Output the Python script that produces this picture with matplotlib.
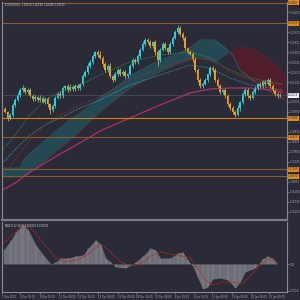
import numpy as np
import matplotlib.pyplot as plt

# EURUSD H4 closes
closes = [1.1975, 1.1948, 1.19615, 1.20065, 1.2029, 1.20515, 1.2074, 1.2083, 1.2065, 1.2074,
          1.2047, 1.20335, 1.20425, 1.2029, 1.2038, 1.2020, 1.20335, 1.2011, 1.1984, 1.2002,
          1.2038, 1.2056, 1.2047, 1.2083, 1.2092, 1.2074, 1.20875, 1.20785, 1.2092, 1.2083,
          1.2101, 1.2137, 1.2155, 1.2182, 1.2200, 1.2227, 1.2245, 1.22315, 1.2218, 1.2191,
          1.2164, 1.2182, 1.2137, 1.2119, 1.2146, 1.2164, 1.2146, 1.2155, 1.2137, 1.2146,
          1.2182, 1.2209, 1.2200, 1.2227, 1.2254, 1.2281, 1.2299, 1.2290, 1.2272, 1.2290,
          1.2245, 1.2209, 1.2254, 1.2281, 1.2263, 1.2245, 1.2281, 1.2308, 1.2335, 1.2353,
          1.2326, 1.2308, 1.2263, 1.2245, 1.2236, 1.2209, 1.2164, 1.2119, 1.2092, 1.2101,
          1.2119, 1.2146, 1.2173, 1.2164, 1.2119, 1.2092, 1.2065, 1.2074, 1.2047, 1.2011,
          1.1993, 1.1975, 1.19615, 1.1993, 1.2020, 1.2056, 1.2074, 1.2047, 1.2038, 1.2065,
          1.2083, 1.2101, 1.2092, 1.2110, 1.2101, 1.2119, 1.2092, 1.2074, 1.2056, 1.2047,
          1.20515]
first_open = 1.1990
# wick lengths in pips
wick_up = [8, 6, 10, 7, 9, 12, 8, 15, 6, 9,
           7, 10, 8, 6, 12, 9, 7, 8, 6, 10,
           9, 7, 12, 8, 6, 9, 14, 7, 8, 10,
           6, 9, 8, 12, 7, 9, 6, 10, 18, 8,
           7, 9, 12, 6, 8, 10, 7, 9, 8, 6,
           11, 7, 9, 8, 10, 12, 7, 9, 8, 6,
           10, 9, 7, 8, 11, 6, 9, 8, 10, 14,
           9, 7, 8, 6, 10, 9, 12, 7, 8, 9,
           10, 6, 8, 9, 7, 11, 8, 6, 9, 10,
           7, 8, 9, 12, 6, 8, 10, 7, 9, 8,
           11, 6, 9, 8, 10, 7, 8, 9, 6, 8,
           7]
wick_dn = [6, 12, 8, 7, 10, 6, 9, 7, 8, 11,
           6, 8, 10, 7, 9, 6, 8, 12, 20, 7,
           8, 6, 9, 10, 7, 8, 6, 9, 11, 7,
           8, 9, 6, 7, 10, 8, 9, 7, 6, 12,
           8, 10, 7, 9, 6, 8, 11, 7, 9, 8,
           6, 10, 8, 7, 9, 6, 8, 10, 7, 9,
           12, 25, 8, 6, 9, 7, 10, 8, 6, 9,
           7, 8, 10, 9, 6, 8, 7, 9, 11, 8,
           6, 9, 7, 10, 8, 6, 9, 7, 8, 10,
           9, 7, 8, 6, 14, 9, 8, 7, 10, 6,
           8, 9, 7, 10, 8, 6, 9, 7, 8, 9,
           6]

# ichimoku cloud (senkou span A / B)
cloud_x = [-1, 6, 8, 14, 20, 26, 32, 38, 44, 50, 56, 62, 68, 74, 78, 84, 88, 91, 94, 100, 106, 112]
span_a = [1.1723, 1.1723, 1.1768, 1.18265, 1.1885, 1.1939, 1.1984, 1.2038, 1.2083, 1.2137, 1.2173,
          1.2209, 1.22315, 1.2263, 1.2299, 1.2299, 1.2263, 1.22315, 1.2164, 1.2110, 1.2065, 1.2029]
span_b = [1.16825, 1.16825, 1.1687, 1.17365, 1.1795, 1.1849, 1.1912, 1.1975, 1.2029, 1.2083, 1.2119,
          1.2155, 1.21865, 1.2209, 1.2218, 1.2200, 1.22315, 1.2254, 1.22675, 1.2254, 1.2209, 1.21415]

# moving averages
ma_x = [-1, 4, 10, 16, 22, 30, 38, 50, 62, 74, 82, 90, 98, 106, 111]
ma_green = [1.1804, 1.18715, 1.19615, 1.2029, 1.2065, 1.20965, 1.21415, 1.2200, 1.22315, 1.2245,
            1.2218, 1.2164, 1.2128, 1.2110, 1.2101]
ma_red = [1.16915, 1.1759, 1.1849, 1.19165, 1.19615, 1.20065, 1.20425, 1.2119, 1.2173, 1.2218,
          1.2209, 1.2155, 1.2119, 1.21055, 1.20965]
ma_teal = [1.17455, 1.1804, 1.18715, 1.19165, 1.1948, 1.1993, 1.2029, 1.20965, 1.21415, 1.21865,
           1.2173, 1.2128, 1.20965, 1.2083, 1.2074]
ma_200 = [1.1624, 1.16555, 1.1705, 1.17455, 1.1786, 1.18355, 1.18895, 1.1948, 1.20065, 1.20605,
          1.20785, 1.2083, 1.2083, 1.2074, 1.2065]

levels = [1.2466, 1.23755, 1.1948, 1.18625, 1.17185, 1.1687]

# MACD panel
hist_x = [-1, 2, 4, 6, 7, 9, 12, 15, 18, 20, 22, 25, 28, 31, 33, 36, 38, 40, 42, 44, 48, 52, 55,
          58, 60, 62, 66, 69, 71, 73, 75, 77, 79, 81, 83, 86, 89, 92, 94, 96, 100, 103, 105, 107, 109]
hist_val = [0.00070, 0.00120, 0.00160, 0.00190, 0.00195, 0.00170, 0.00095, 0.00045, 0.0, 0.00010,
            0.00030, 0.00030, 0.00040, 0.00045, 0.00080, 0.00120, 0.00100, 0.00030, 0.00010, -0.00015,
            -0.00020, 0.00010, 0.00040, 0.00080, 0.00070, 0.00030, 0.00030, 0.00055, 0.00060, 0.00020,
            -0.00010, -0.00070, -0.00125, -0.00115, -0.00075, -0.00070, -0.00080, -0.00120, -0.00090,
            -0.00040, -0.00020, 0.00025, 0.00040, 0.00030, 0.0]
sig_x = [-1, 2, 6, 8, 10, 14, 18, 20, 24, 28, 32, 36, 38, 42, 46, 50, 54, 58, 62, 66, 70, 74,
         78, 80, 83, 87, 91, 95, 98, 102, 106, 109]
sig_val = [0.00105, 0.00140, 0.00180, 0.00195, 0.00180, 0.00120, 0.00060, 0.00030, 0.00010, 0.00020,
           0.00040, 0.00080, 0.00100, 0.00060, 0.00010, -0.00010, 0.0, 0.00040, 0.00060, 0.00050,
           0.00040, 0.00030, -0.00040, -0.00080, -0.00105, -0.00090, -0.00090, -0.00100, -0.00060,
           -0.00005, 0.00030, 0.00010]

date_pos = [-1.6, 5.6, 13.6, 21.2, 28.8, 36.8, 44.8, 52, 60, 68, 75.6, 82.8, 90.8, 98.4, 105.6]
date_labels = ['1 Dec 2020', '3 Dec 16:00', '8 Dec 08:00', '11 Dec 00:00', '15 Dec 16:00',
               '18 Dec 08:00', '23 Dec 00:00', '28 Dec 16:00', '31 Dec 08:00', '6 Jan 00:00',
               '8 Jan 16:00', '13 Jan 08:00', '18 Jan 00:00', '20 Jan 16:00', '25 Jan 08:00']

BG = '#2a2b36'
BULL = '#2ad2da'
BEAR = '#e6a02a'
TXT = '#a8a8b0'
FS = 1.8

fig = plt.figure(figsize=(3, 3), dpi=100, facecolor=BG)
ax = fig.add_axes([2 / 300, 80 / 300, 285 / 300, 218 / 300], facecolor=BG)
ax2 = fig.add_axes([2 / 300, 8 / 300, 285 / 300, 70 / 300], facecolor=BG)

# cloud
ca = np.array(span_a)
cb = np.array(span_b)
ax.fill_between(cloud_x, ca, cb, where=ca >= cb, interpolate=True, color='#1d6a72', alpha=0.5, lw=0)
ax.fill_between(cloud_x, ca, cb, where=ca < cb, interpolate=True, color='#5e1c28', alpha=0.75, lw=0)
ax.plot(cloud_x, span_a, color='#2a8088', lw=0.5, alpha=0.7)
ax.plot(cloud_x, span_b, color='#6e2630', lw=0.5, alpha=0.7)

# moving averages
ax.plot(ma_x, ma_teal, color='#3aa6b0', lw=0.6, ls=(0, (1, 1)))
ax.plot(ma_x, ma_red, color='#a03030', lw=0.6, ls=(0, (1, 1)))
ax.plot(ma_x, ma_green, color='#2f9a4a', lw=0.6, ls=(0, (1, 1)))
ax.plot(ma_x, ma_200, color='#b0306e', lw=0.9)

# levels
for lv in levels:
    col = '#d27a20' if lv == 1.1948 else '#8c5a32'
    ax.axhline(lv, color=col, lw=0.8)
ax.axhline(closes[-1], color='#5a5a66', lw=0.4)

# candles
idx = np.arange(len(closes))
opens = [first_open] + closes[:-1]
colors = [BULL if c >= o else BEAR for o, c in zip(opens, closes)]
bottoms = [min(o, c) for o, c in zip(opens, closes)]
heights = [max(abs(c - o), 0.00015) for o, c in zip(opens, closes)]
highs = [max(o, c) + w * 0.0001 for o, c, w in zip(opens, closes, wick_up)]
lows = [min(o, c) - w * 0.0001 for o, c, w in zip(opens, closes, wick_dn)]
ax.vlines(idx, lows, highs, colors=colors, lw=0.6)
ax.bar(idx, heights, bottom=bottoms, width=0.72, color=colors, lw=0)

ax.set_xlim(-1.2, 112.8)
ax.set_ylim(1.2479 - 0.00045 * 220, 1.2479 - 0.00045 * 2)
ax.yaxis.tick_right()
# price scale; the boxed labels hide the ticks next to them
marked = levels + [closes[-1]]
yt = [v for v in np.arange(1.2425, 1.150, -0.0045) if min(abs(v - m) for m in marked) > 0.0018]
ax.set_yticks(yt)
ax.set_yticklabels(['%.5f' % v for v in yt])
ax.tick_params(axis='y', colors=TXT, labelsize=FS, length=1.2, width=0.4, pad=0.6)
ax.set_xticks([])
for s in ax.spines.values():
    s.set_color('#8a8a92')
    s.set_linewidth(0.8)
ax.spines['top'].set_visible(False)
ax.spines['bottom'].set_color('#7a7a82')
ax.spines['bottom'].set_linewidth(1.6)

tr = ax.get_yaxis_transform()
for lv in levels:
    ax.text(1.004, lv, '%.5f' % lv, transform=tr, fontsize=FS, va='center', ha='left',
            color='#2a2a2a', clip_on=False,
            bbox=dict(boxstyle='square,pad=0.2', fc='#e08a1e', ec='none'))
ax.text(1.004, closes[-1], '%.5f' % closes[-1], transform=tr, fontsize=FS, va='center', ha='left',
        color='#222222', clip_on=False, bbox=dict(boxstyle='square,pad=0.2', fc='#f0f0f0', ec='none'))

fig.text(5 / 300, 1 - 5 / 300, 'EURUSD,H4  1.20520 1.20548 1.20490 1.20515', fontsize=FS,
         color='#d0d0d0', va='center', ha='left')

# MACD panel
ax2.fill_between(hist_x, 0, hist_val, color='#6e6e76', lw=0)
ax2.vlines(hist_x, 0, hist_val, colors='#9a9aa2', lw=0.3)
ax2.plot(sig_x, sig_val, color='#b02828', lw=0.7, ls=(0, (2, 1)))
ax2.set_xlim(-1.2, 112.8)
ax2.set_ylim(-0.0014, 0.0021)
ax2.yaxis.tick_right()
ax2.set_yticks([0.0, -0.00135])
ax2.set_yticklabels(['0.00', '-0.0014'])
ax2.tick_params(axis='y', colors=TXT, labelsize=FS, length=1.2, width=0.4, pad=0.6)
ax2.set_xticks(date_pos)
ax2.set_xticklabels(date_labels, ha='left')
ax2.tick_params(axis='x', colors=TXT, labelsize=1.8, length=1.2, width=0.4, pad=0.8)
for s in ax2.spines.values():
    s.set_color('#8a8a92')
    s.set_linewidth(0.8)
ax2.spines['top'].set_visible(False)
ax2.text(0.01, 0.97, 'MACD(12,26,9) 0.000300 0.000100', transform=ax2.transAxes, fontsize=FS,
         color='#d0d0d0', va='top', ha='left')

fig.savefig('out.png', dpi=100, facecolor=BG)
